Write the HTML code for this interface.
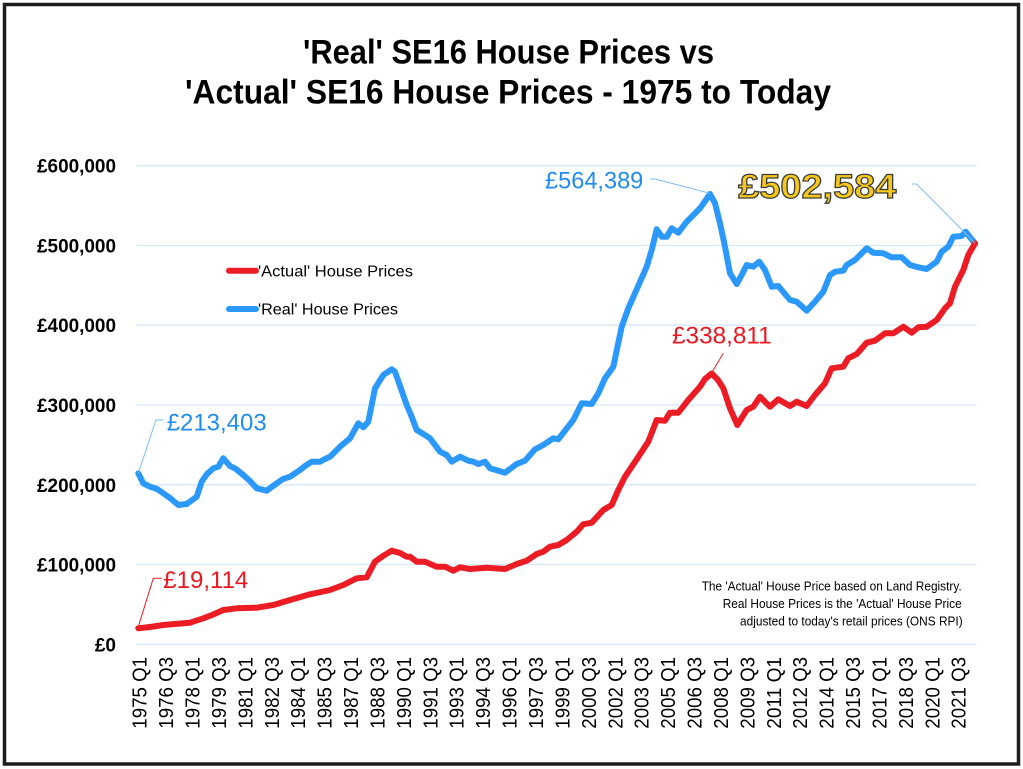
<!DOCTYPE html>
<html>
<head>
<meta charset="utf-8">
<style>
  html,body{margin:0;padding:0;background:#fff;}
  svg{display:block;}
  text{font-family:"Liberation Sans", sans-serif;}
</style>
</head>
<body>
<svg width="1023" height="769" viewBox="0 0 1023 769" xmlns="http://www.w3.org/2000/svg">
  <rect x="0" y="0" width="1023" height="769" fill="#fff"/>
  <rect x="4.5" y="4.5" width="1014" height="759.5" fill="none" stroke="#1e1e1e" stroke-width="3.5"/>

  <!-- Title -->
  <text x="508.5" y="63.3" text-anchor="middle" font-weight="bold" font-size="34" textLength="411" lengthAdjust="spacingAndGlyphs" fill="#000">'Real' SE16 House Prices vs</text>
  <text x="508" y="103.3" text-anchor="middle" font-weight="bold" font-size="34" textLength="646" lengthAdjust="spacingAndGlyphs" fill="#000">'Actual' SE16 House Prices - 1975 to Today</text>

  <!-- Gridlines -->
  <g stroke="#d6e7f9" stroke-width="1.3">
    <line x1="136.7" y1="644.3" x2="976.7" y2="644.3"/>
    <line x1="136.7" y1="564.5" x2="976.7" y2="564.5"/>
    <line x1="136.7" y1="484.8" x2="976.7" y2="484.8"/>
    <line x1="136.7" y1="405.0" x2="976.7" y2="405.0"/>
    <line x1="136.7" y1="325.2" x2="976.7" y2="325.2"/>
    <line x1="136.7" y1="245.5" x2="976.7" y2="245.5"/>
    <line x1="136.7" y1="165.7" x2="976.7" y2="165.7"/>
  </g>

  <!-- Y labels -->
  <g font-weight="bold" font-size="19" text-anchor="end" fill="#000">
    <text x="116" y="651.3">£0</text>
    <text x="116" y="571.5" textLength="79" lengthAdjust="spacingAndGlyphs">£100,000</text>
    <text x="116" y="491.8" textLength="79" lengthAdjust="spacingAndGlyphs">£200,000</text>
    <text x="116" y="412.0" textLength="79" lengthAdjust="spacingAndGlyphs">£300,000</text>
    <text x="116" y="332.2" textLength="79" lengthAdjust="spacingAndGlyphs">£400,000</text>
    <text x="116" y="252.5" textLength="79" lengthAdjust="spacingAndGlyphs">£500,000</text>
    <text x="116" y="172.7" textLength="79" lengthAdjust="spacingAndGlyphs">£600,000</text>
  </g>

  <!-- X labels -->
  <g font-size="20.5" text-anchor="end" fill="#000">
    <text transform="translate(146.7,657) rotate(-90)" textLength="71.7" lengthAdjust="spacingAndGlyphs">1975 Q1</text>
    <text transform="translate(173.1,657) rotate(-90)" textLength="71.7" lengthAdjust="spacingAndGlyphs">1976 Q3</text>
    <text transform="translate(199.5,657) rotate(-90)" textLength="71.7" lengthAdjust="spacingAndGlyphs">1978 Q1</text>
    <text transform="translate(226.0,657) rotate(-90)" textLength="71.7" lengthAdjust="spacingAndGlyphs">1979 Q3</text>
    <text transform="translate(252.4,657) rotate(-90)" textLength="71.7" lengthAdjust="spacingAndGlyphs">1981 Q1</text>
    <text transform="translate(278.8,657) rotate(-90)" textLength="71.7" lengthAdjust="spacingAndGlyphs">1982 Q3</text>
    <text transform="translate(305.2,657) rotate(-90)" textLength="71.7" lengthAdjust="spacingAndGlyphs">1984 Q1</text>
    <text transform="translate(331.6,657) rotate(-90)" textLength="71.7" lengthAdjust="spacingAndGlyphs">1985 Q3</text>
    <text transform="translate(358.1,657) rotate(-90)" textLength="71.7" lengthAdjust="spacingAndGlyphs">1987 Q1</text>
    <text transform="translate(384.5,657) rotate(-90)" textLength="71.7" lengthAdjust="spacingAndGlyphs">1988 Q3</text>
    <text transform="translate(410.9,657) rotate(-90)" textLength="71.7" lengthAdjust="spacingAndGlyphs">1990 Q1</text>
    <text transform="translate(437.3,657) rotate(-90)" textLength="71.7" lengthAdjust="spacingAndGlyphs">1991 Q3</text>
    <text transform="translate(463.7,657) rotate(-90)" textLength="71.7" lengthAdjust="spacingAndGlyphs">1993 Q1</text>
    <text transform="translate(490.2,657) rotate(-90)" textLength="71.7" lengthAdjust="spacingAndGlyphs">1994 Q3</text>
    <text transform="translate(516.6,657) rotate(-90)" textLength="71.7" lengthAdjust="spacingAndGlyphs">1996 Q1</text>
    <text transform="translate(543.0,657) rotate(-90)" textLength="71.7" lengthAdjust="spacingAndGlyphs">1997 Q3</text>
    <text transform="translate(569.4,657) rotate(-90)" textLength="71.7" lengthAdjust="spacingAndGlyphs">1999 Q1</text>
    <text transform="translate(595.8,657) rotate(-90)" textLength="71.7" lengthAdjust="spacingAndGlyphs">2000 Q3</text>
    <text transform="translate(622.3,657) rotate(-90)" textLength="71.7" lengthAdjust="spacingAndGlyphs">2002 Q1</text>
    <text transform="translate(648.7,657) rotate(-90)" textLength="71.7" lengthAdjust="spacingAndGlyphs">2003 Q3</text>
    <text transform="translate(675.1,657) rotate(-90)" textLength="71.7" lengthAdjust="spacingAndGlyphs">2005 Q1</text>
    <text transform="translate(701.5,657) rotate(-90)" textLength="71.7" lengthAdjust="spacingAndGlyphs">2006 Q3</text>
    <text transform="translate(727.9,657) rotate(-90)" textLength="71.7" lengthAdjust="spacingAndGlyphs">2008 Q1</text>
    <text transform="translate(754.4,657) rotate(-90)" textLength="71.7" lengthAdjust="spacingAndGlyphs">2009 Q3</text>
    <text transform="translate(780.8,657) rotate(-90)" textLength="71.7" lengthAdjust="spacingAndGlyphs">2011 Q1</text>
    <text transform="translate(807.2,657) rotate(-90)" textLength="71.7" lengthAdjust="spacingAndGlyphs">2012 Q3</text>
    <text transform="translate(833.6,657) rotate(-90)" textLength="71.7" lengthAdjust="spacingAndGlyphs">2014 Q1</text>
    <text transform="translate(860.0,657) rotate(-90)" textLength="71.7" lengthAdjust="spacingAndGlyphs">2015 Q3</text>
    <text transform="translate(886.5,657) rotate(-90)" textLength="71.7" lengthAdjust="spacingAndGlyphs">2017 Q1</text>
    <text transform="translate(912.9,657) rotate(-90)" textLength="71.7" lengthAdjust="spacingAndGlyphs">2018 Q3</text>
    <text transform="translate(939.3,657) rotate(-90)" textLength="71.7" lengthAdjust="spacingAndGlyphs">2020 Q1</text>
    <text transform="translate(965.7,657) rotate(-90)" textLength="71.7" lengthAdjust="spacingAndGlyphs">2021 Q3</text>
  </g>

  <!-- Real (blue) series -->
  <polyline fill="none" stroke="#2b98fb" stroke-width="6" stroke-linejoin="round" stroke-linecap="round" points="
138.3,473.3 143.3,483.3 150,486.7 157,489 163.3,493.3 170,498 178.3,505 186.7,504 196.7,496.7 201.7,481.7 207,474 213.3,468.3 218.3,466.7 223.3,458.3 230,466 236,469 243.3,475 250,481 256.7,488.3 266.7,490.7 276.7,483.3 283,479 290,476.7 300,470 305,466 311.7,461.7 320,461.7 325,459 330,456.7 340,446.7 350,438.3 358.3,423.3 363.3,427.3 368.3,421.7 375,388.3 383.3,375 391.7,369.3 395,371.7 406.7,405 411,415 416.7,430 425,435 430,438.3 440,451.7 446.7,455 451.7,461.7 460,456.7 468.3,460.7 473.3,461.7 478.3,464 485,461.7 490,468.3 505,472.7 516.7,464 525,460.7 535,449.3 543.3,445 553.3,438.3 558.3,439.3 573.3,420 581.7,403.3 591.7,404 598.3,393.3 605,378.3 613.3,366.7 621.7,326.7 628.3,308.3 646.7,266.7 651.7,250 656.7,229.3 661.7,236.7 666.7,236.7 671.7,228.3 678.3,232.7 686.7,221.7 700,208.3 710,194 715,203.3 720,223.3 725,246.7 730,273.3 736.7,284 741.7,275 746.7,265 753.3,266.7 759.3,261.7 765,270 771.7,286.7 778.3,286 790,300 796.7,301.7 806.7,310.7 815,301.7 823.3,291.7 830,275 835,271.7 843.3,270.7 846.7,265 855,260 866.7,248.3 873.3,252.7 883.3,253.3 891.7,257.3 901.7,257.3 910,265 918.3,267.3 926.7,269 936.7,261.7 941.7,251.7 948.3,246.7 953.3,236.7 961.7,236 965.7,231.7 970,237.3 975,243.4"/>

  <!-- Actual (red) series -->
  <polyline fill="none" stroke="#ec1c24" stroke-width="6" stroke-linejoin="round" stroke-linecap="round" points="
138.3,628.3 150,627 163.3,625 175,624 190,622.7 203.3,618.3 212,615 223.3,610 236.7,608.3 256.7,607.7 273.3,605 290,600 310,594.3 330,590 343.3,585 356.7,578.3 366.7,577.3 375,561.7 383,556 391.7,550.7 400,553 406.7,556.7 410,556.7 416.7,561.7 425,561.7 436.7,566.7 445,566.7 453.3,570.7 460,567.3 470,569 486.7,567.7 505,569 516.7,564 526.7,560.7 536.7,554 543.3,551.7 550,546.7 558.3,545 566.7,540 576.7,531.7 583.3,524.3 591.7,522.7 603.3,510 611.7,505 618.3,490 625,476.7 636.7,459.3 648.3,441.7 656.7,420 665,420.7 670,412.7 678.3,412.7 688.3,400 700,386.7 705,379 711.7,373.5 718,380 723.3,388.3 730,408.3 737.3,425 746.7,410 753.3,406.7 760,396.7 770,406.7 778.3,399.3 790,406 796.7,401.7 806.7,406 815,395 825,383.3 831.7,368.3 843.3,366.7 848.3,358.3 856.7,354 866.7,342.7 875,340.7 885,333.3 893.3,333.3 903.3,326.7 911.7,332.7 918.3,327.3 926.7,326.7 936.7,320 945,308.3 950,303.3 955,286.7 963.3,270 968.3,255 975,243.4"/>

  <!-- Leader lines -->
  <g fill="none" stroke-width="1">
    <polyline stroke="#7dbcf5" points="138.3,473.3 156,420 163.3,420"/>
    <polyline stroke="#ec1c24" points="138.3,626.7 153.3,578.3 161.7,578.3"/>
    <polyline stroke="#7dbcf5" points="650,179 655,179 710,193.3"/>
    <polyline stroke="#ec1c24" points="711.7,372.7 723.3,353.3"/>
    <polyline stroke="#7dbcf5" points="911.7,184 916.7,184 975,243"/>
  </g>

  <!-- Data labels -->
  <g font-size="24">
    <text x="166.7" y="430.4" fill="#1f8cf2" textLength="100" lengthAdjust="spacingAndGlyphs">£213,403</text>
    <text x="163.3" y="588" fill="#ea1720" textLength="85" lengthAdjust="spacingAndGlyphs">£19,114</text>
    <text x="545" y="188.7" fill="#1f8cf2" textLength="98.3" lengthAdjust="spacingAndGlyphs">£564,389</text>
    <text x="672" y="343.7" fill="#ea1720" textLength="99.7" lengthAdjust="spacingAndGlyphs">£338,811</text>
  </g>
  <text x="738.3" y="198" font-size="34" font-weight="bold" fill="#f6c81c" stroke="#3a3a3a" stroke-width="1.2" textLength="158" lengthAdjust="spacingAndGlyphs">£502,584</text>

  <!-- Legend -->
  <line x1="229" y1="270.7" x2="256" y2="270.7" stroke="#ec1c24" stroke-width="6" stroke-linecap="round"/>
  <text x="258" y="276.3" font-size="16" fill="#000" textLength="155" lengthAdjust="spacingAndGlyphs">'Actual' House Prices</text>
  <line x1="229" y1="309" x2="256" y2="309" stroke="#2b98fb" stroke-width="6" stroke-linecap="round"/>
  <text x="258" y="314.6" font-size="16" fill="#000" textLength="140" lengthAdjust="spacingAndGlyphs">'Real' House Prices</text>

  <!-- Note -->
  <g font-size="12.5" fill="#000" text-anchor="end">
    <text x="961.7" y="590.5" textLength="260" lengthAdjust="spacingAndGlyphs">The 'Actual' House Price based on Land Registry.</text>
    <text x="961.7" y="607.8" textLength="239" lengthAdjust="spacingAndGlyphs">Real House Prices is the 'Actual' House Price</text>
    <text x="962.7" y="625.3" textLength="222.7" lengthAdjust="spacingAndGlyphs">adjusted to today's retail prices (ONS RPI)</text>
  </g>
</svg>
</body>
</html>
